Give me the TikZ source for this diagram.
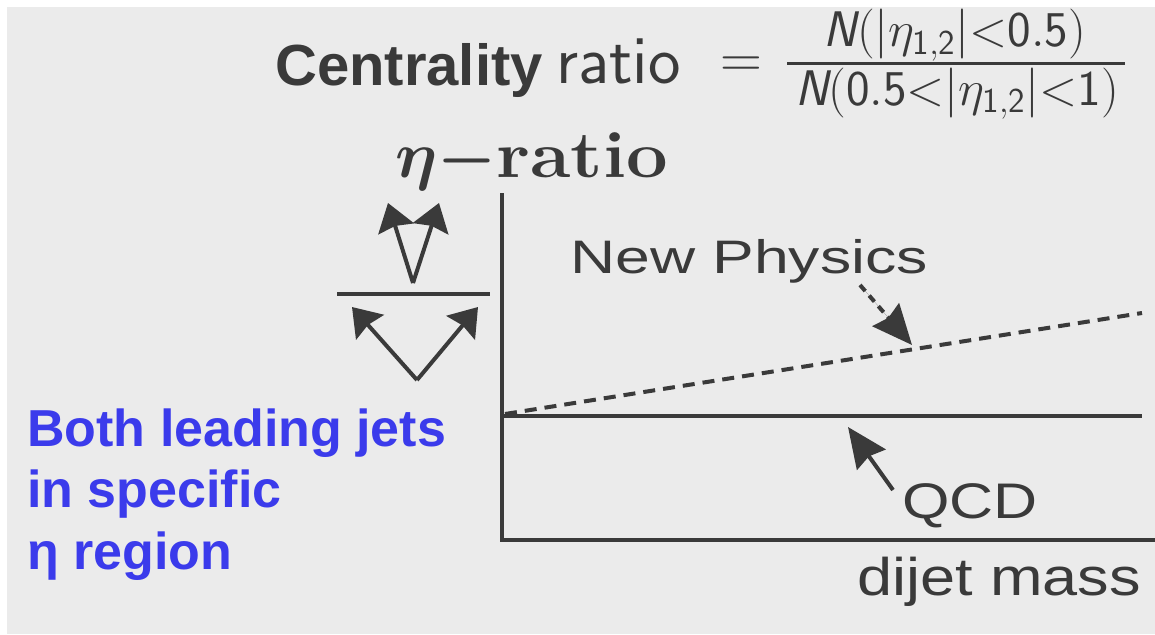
\RequirePackage{fix-cm}
\documentclass[tikz,border=0pt]{standalone}
\usepackage{amsmath}
\usepackage{fontspec}
\usepackage{graphicx}
\newfontfamily\arial{Liberation Sans}
\usetikzlibrary{arrows.meta}
\definecolor{bgc}{HTML}{EBEBEB}
\definecolor{ink}{HTML}{3A3A3A}
\definecolor{bl}{HTML}{3B3BEB}
\tikzset{
  lbl/.style={anchor=base west, inner sep=0pt, text=ink},
  mathlbl/.style={anchor=base, inner sep=0pt, text=ink, font=\fontsize{50}{55}\selectfont},
  thickline/.style={draw=ink, line width=4pt},
  iconarr/.style={draw=ink, fill=ink, line width=4pt, -{Stealth[length=27pt,width=37pt,inset=3pt]}},
  bigarr/.style={draw=ink, fill=ink, line width=4pt, -{Stealth[length=40pt,width=35pt,inset=4pt]}},
  dashline/.style={draw=ink, line width=4pt, dash pattern=on 12pt off 8pt},
}
\newcommand{\etaratio}{$\boldsymbol{\eta}\boldsymbol{{-}}$\scalebox{1.12}[1]{\textbf{ratio}}}
\newcommand{\fracnum}{\textsf{\itshape N}\mathsf{(}|\eta_{\mathsf{1,2}}|{<}\mathsf{0.5}\mathsf{)}}
\newcommand{\fracden}{\textsf{\itshape N}\mathsf{(}\mathsf{0.5}{<}|\eta_{\mathsf{1,2}}|{<}\mathsf{1}\mathsf{)}}
\begin{document}
\begin{tikzpicture}[x=1pt,y=-1pt]
\useasboundingbox (0,0) rectangle (1155,634);
\fill[bgc] (7,7) rectangle (1155,634);

% title
\node[lbl, font=\arial\bfseries\fontsize{58}{60}\selectfont] (cent) at (275,85) {Centrality};
\node[lbl, font=\sffamily\fontsize{69}{72}\selectfont] (rat) at (556,83) {ratio};
\node[lbl, font=\fontsize{58}{60}\selectfont] (eq) at (720,77) {$=$};
\node[mathlbl] (num) at (955,47) {$\fracnum$};
\node[mathlbl] (den) at (957,105) {$\fracden$};
\coordinate (barL) at (787,63);
\coordinate (barR) at (1125,63);
\draw[draw=ink, line width=3pt] (barL) -- (barR);

% eta-ratio
\node[lbl, font=\fontsize{66}{70}\selectfont] (etar) at (395,177) {\etaratio};

% left icon
\coordinate (uA) at (413,283);
\coordinate (uL) at (388,203);
\coordinate (uR) at (439,203);
\draw[iconarr] (uA) -- (uL);
\draw[iconarr] (uA) -- (uR);
\coordinate (h1) at (337,294);
\coordinate (h2) at (490,294);
\draw[thickline] (h1) -- (h2);
\coordinate (lA) at (417,380);
\coordinate (lL) at (352,307);
\coordinate (lR) at (478,307);
\draw[iconarr] (lA) -- (lL);
\draw[iconarr] (lA) -- (lR);

% axes
\coordinate (ytop) at (502,193);
\coordinate (orig) at (502,540);
\coordinate (xend) at (1155,540);
\draw[thickline, line join=miter] (ytop) -- (orig) -- (xend);

% curves
\coordinate (q1) at (502,416);
\coordinate (q2) at (1142,416);
\draw[thickline] (q1) -- (q2);
\coordinate (n1) at (505,414);
\coordinate (n2) at (1142,313);
\draw[dashline] (n1) -- (n2);

% labels
\node[lbl, font=\arial\fontsize{47}{50}\selectfont] (np) at (570,273) {\scalebox{1.33}[1]{New Physics}};
\node[lbl, font=\arial\fontsize{50}{54}\selectfont] (qcd) at (902,518) {\scalebox{1.22}[1]{QCD}};
\node[lbl, font=\arial\fontsize{53}{56}\selectfont] (dm) at (857,595) {\scalebox{1.19}[1]{dijet mass}};

% arrows
\coordinate (npa) at (860,285);
\coordinate (npb) at (912,345);
\draw[bigarr, dash pattern=on 8pt off 6pt] (npa) -- (npb);
\coordinate (qa) at (893,490);
\coordinate (qb) at (848,427);
\draw[bigarr] (qa) -- (qb);

% blue text
\node[anchor=base west, inner sep=0pt, align=left, text=bl, font=\arial\bfseries\fontsize{52}{61.5}\selectfont] (blue) at (27,569) {Both leading jets\\in specific\\η region};
\end{tikzpicture}
\end{document}
